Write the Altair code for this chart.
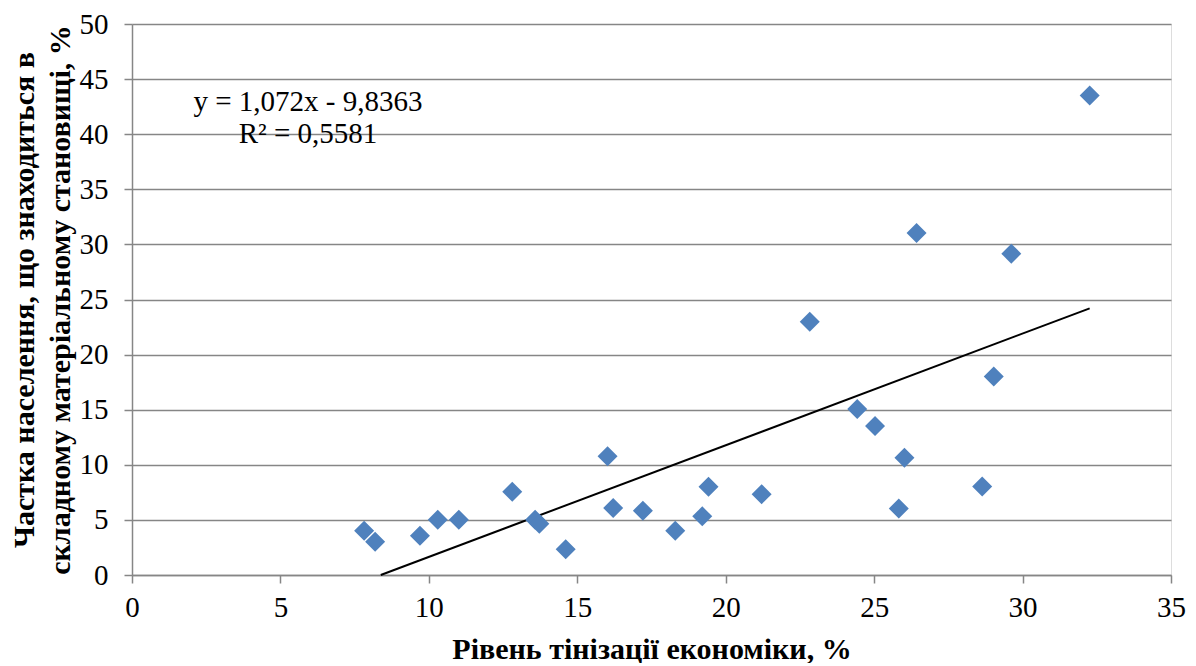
import altair as alt
import pandas as pd

# Scatter points
x_vals = [7.82, 8.19, 9.70, 10.30, 11.01, 12.81, 13.58, 13.72, 14.61, 16.02,
          16.21, 17.21, 18.30, 19.21, 19.42, 21.21, 22.83, 24.43, 25.03, 26.02,
          25.83, 26.43, 28.64, 29.03, 29.62, 32.26]
y_vals = [4.02, 3.02, 3.57, 5.02, 5.02, 7.56, 5.02, 4.66, 2.33, 10.78,
          6.08, 5.84, 4.02, 5.32, 8.00, 7.33, 22.99, 15.06, 13.52, 10.64,
          6.04, 31.03, 8.04, 18.02, 29.16, 43.52]

# Trend line endpoints as drawn in the picture
trend_x = [8.38, 32.26]
trend_y = [0.0, 24.2]

equation_text = "y = 1,072x - 9,8363\nR² = 0,5581"
x_title = "Рівень тінізації економіки, %"
y_title = ["Частка населення, що знаходиться в", "складному матеріальному становищі, %"]
x_ticks = [0, 5, 10, 15, 20, 25, 30, 35]
y_ticks = [0, 5, 10, 15, 20, 25, 30, 35, 40, 45, 50]

FONT = "Liberation Serif"
GRID = "#868686"

pts = pd.DataFrame({"x": x_vals, "y": y_vals})
trend = pd.DataFrame({"x": trend_x, "y": trend_y})

xscale = alt.Scale(domain=[0, 35], nice=False, zero=False)
yscale = alt.Scale(domain=[0, 50], nice=False, zero=False)

xaxis = alt.Axis(values=x_ticks, title=x_title, grid=False, domainColor=GRID,
                 domainWidth=1.5, tickColor=GRID, tickWidth=1.5, tickSize=8,
                 labelFont=FONT, labelFontSize=29, labelColor="black", labelPadding=10,
                 labelFlush=False,
                 titleFont=FONT, titleFontSize=30, titleFontWeight="bold", titleColor="black",
                 titleY=83, titleBaseline="alphabetic")
yaxis = alt.Axis(values=y_ticks, title=y_title, grid=True, gridColor=GRID, gridWidth=1.5,
                 domainColor=GRID, domainWidth=1.5, tickColor=GRID, tickWidth=1.5, tickSize=8,
                 labelFont=FONT, labelFontSize=29, labelColor="black", labelPadding=16,
                 labelFlush=False,
                 titleFont=FONT, titleFontSize=30, titleFontWeight="bold", titleColor="black",
                 titleX=-93, titleY=275.5, titleAngle=270, titleAlign="center",
                 titleBaseline="bottom", titleLineHeight=36)

points = alt.Chart(pts).mark_point(shape="diamond", filled=True, size=400,
                                   color="#4F81BD", opacity=1).encode(
    x=alt.X("x:Q", scale=xscale, axis=xaxis),
    y=alt.Y("y:Q", scale=yscale, axis=yaxis),
)

line = alt.Chart(trend).mark_line(color="black", strokeWidth=2).encode(
    x=alt.X("x:Q", scale=xscale),
    y=alt.Y("y:Q", scale=yscale),
)

label = alt.Chart(pd.DataFrame({"t": [equation_text]})).mark_text(
    font=FONT, fontSize=29, color="black", align="center", baseline="alphabetic",
    lineBreak="\n", lineHeight=32
).encode(x=alt.value(176), y=alt.value(87), text="t:N")

chart = alt.layer(line, points, label).properties(
    width=1039, height=551,
    autosize=alt.AutoSizeParams(type="none"),
    padding={"left": 124, "top": 16, "right": 17, "bottom": 88},
).configure_view(stroke=None).configure(background="white")

chart.save("out.html", embed_options={"renderer": "svg", "actions": False})
